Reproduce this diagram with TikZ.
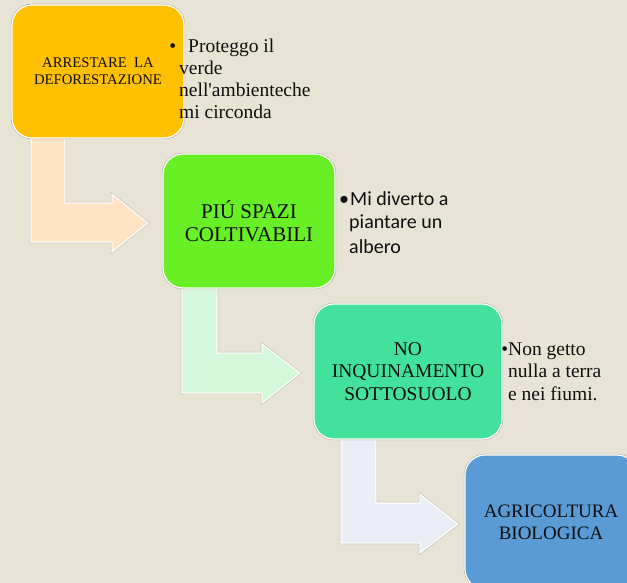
\documentclass[tikz,border=0pt]{standalone}
\usepackage{fontspec}
\setmainfont{Liberation Serif}
\newfontfamily\carlito{Carlito}
\definecolor{bg}{HTML}{E7E3D5}
\definecolor{cone}{HTML}{FFC000}
\definecolor{ctwo}{HTML}{69EF26}
\definecolor{cthree}{HTML}{42E29C}
\definecolor{cfour}{HTML}{5B9BD5}
\definecolor{aone}{HTML}{FFE3C4}
\definecolor{atwo}{HTML}{D6F8DA}
\definecolor{athree}{HTML}{EBEEF6}
\definecolor{rim}{HTML}{B9B5AA}
\definecolor{ink}{HTML}{0F0F0F}
\tikzset{
  stepbox/.style={rectangle, rounded corners=20pt, draw=white, line width=1.2pt,
    preaction={draw=rim, line width=2.4pt}, align=center, text=ink, inner sep=2pt},
  blockarrow/.style={draw=white, line width=1.2pt, line join=miter,
    preaction={draw=rim, line width=2.2pt}},
  bullettext/.style={anchor=base west, inner sep=0pt, text=ink}
}
\begin{document}
\begin{tikzpicture}[x=1pt,y=-1pt]
\useasboundingbox (0,0) rectangle (627,583);
\clip (0,0) rectangle (627,583);
\fill[bg] (0,0) rectangle (627,583);

% block arrows
\draw[blockarrow, fill=aone] (31,130) -- (65,130) -- (65,203) -- (112,203) -- (112,194)
  -- (148,223) -- (112,252) -- (112,242) -- (31,242) -- cycle;
\draw[blockarrow, fill=atwo] (182,280) -- (217,280) -- (217,353) -- (262,353) -- (262,344)
  -- (300,373) -- (262,403) -- (262,393) -- (182,393) -- cycle;
\draw[blockarrow, fill=athree] (341,430) -- (376,430) -- (376,503) -- (420,503) -- (420,494)
  -- (458,524) -- (420,553) -- (420,543) -- (341,543) -- cycle;

% boxes
\node[stepbox, fill=cone, minimum width=172pt, minimum height=133pt,
  font={\fontsize{14.7}{17}\selectfont}] (b1) at (98,71.5)
  {ARRESTARE\ \ LA\\DEFORESTAZIONE};
\node[stepbox, fill=ctwo, minimum width=172pt, minimum height=134pt,
  font={\fontsize{21}{23.5}\selectfont}] (b2) at (249,221)
  {PIÚ SPAZI\\COLTIVABILI};
\node[stepbox, fill=cthree, minimum width=188pt, minimum height=135pt,
  font={\fontsize{19.5}{22.5}\selectfont}] (b3) at (408,371.5)
  {NO\\INQUINAMENTO\\SOTTOSUOLO};
\node[stepbox, fill=cfour, minimum width=172pt, minimum height=134pt,
  font={\fontsize{19}{22}\selectfont}] (b4) at (551,522)
  {AGRICOLTURA\\BIOLOGICA};

% bullet texts
\node[bullettext, font={\fontsize{19.5}{22}\selectfont}] (t1) at (179,53)
  {\parbox[t]{150pt}{\raggedright\makebox[0pt][r]{•\hspace{3pt}}\hspace*{9pt}Proteggo il\\
   verde\\nell\textquotesingle ambienteche\\mi circonda}};
\node[bullettext, font={\carlito\fontsize{20}{24}\selectfont}] (t2) at (349,205)
  {\parbox[t]{150pt}{\raggedright\makebox[0pt][r]{•}\hspace*{1pt}Mi diverto a\\
   piantare un\\albero}};
\node[bullettext, font={\fontsize{19.5}{22.5}\selectfont}] (t3) at (508,355)
  {\parbox[t]{130pt}{\raggedright\makebox[0pt][r]{•}Non getto\\
   nulla a terra\\e nei fiumi.}};
\end{tikzpicture}
\end{document}
